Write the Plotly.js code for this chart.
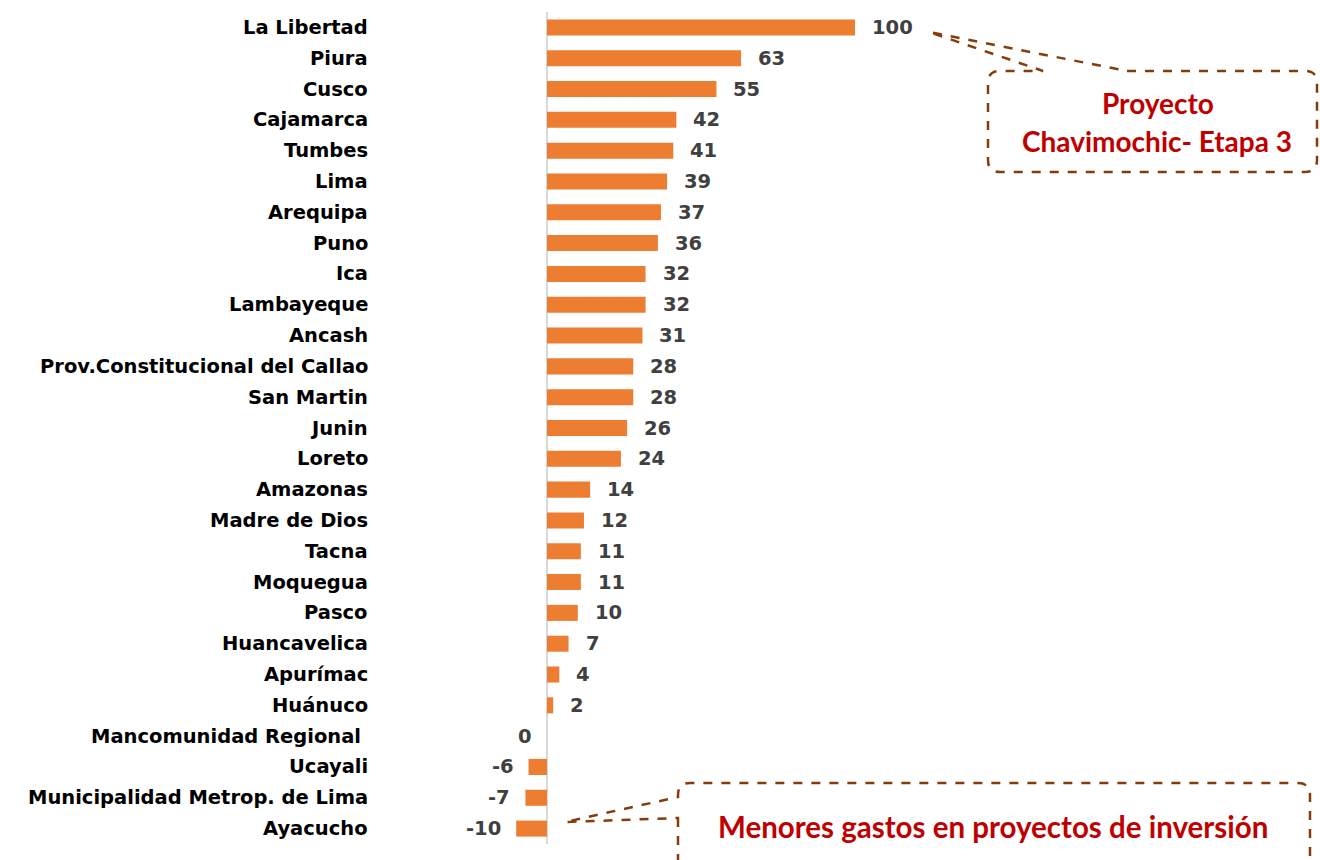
<!DOCTYPE html>
<html>
<head>
<meta charset="utf-8">
<script src="https://cdn.plot.ly/plotly-3.0.1.min.js"></script>
<style>
  html, body { margin: 0; padding: 0; background: #fff; }
  #chart { width: 1320px; height: 860px; }
</style>
</head>
<body>
<div id="chart"></div>
<script>
// regions, top to bottom, and their values
const regions = [
  "La Libertad", "Piura", "Cusco", "Cajamarca", "Tumbes", "Lima", "Arequipa",
  "Puno", "Ica", "Lambayeque", "Ancash", "Prov.Constitucional del Callao",
  "San Martin", "Junin", "Loreto", "Amazonas", "Madre de Dios", "Tacna",
  "Moquegua", "Pasco", "Huancavelica", "Apurímac", "Huánuco",
  "Mancomunidad Regional", "Ucayali", "Municipalidad Metrop. de Lima", "Ayacucho"
];
const values = [
  100, 63, 55, 42, 41, 39, 37,
  36, 32, 32, 31, 28,
  28, 26, 24, 14, 12, 11,
  11, 10, 7, 4, 2,
  0, -6, -7, -10
];

const calloutTop = ["Proyecto", "Chavimochic- Etapa 3"];
const calloutBottom = "Menores gastos en proyectos de inversión";

// figure margins (px)
const L = 380, T = 12, B = 16, W = 1320 - L, H = 860 - T - B;
const px = x => (x - L) / W;
const py = y => 1 - (y - T) / H;

// build a path in paper coords from pixel commands
function path(cmds) {
  return cmds.map(c => {
    const op = c[0];
    const pts = [];
    for (let i = 1; i < c.length; i += 2) {
      pts.push(px(c[i]).toFixed(5) + "," + py(c[i + 1]).toFixed(5));
    }
    return op + " " + pts.join(" ");
  }).join(" ");
}

const brown = "#843C0C";
const red = "#C00000";

const bars = {
  type: "bar",
  orientation: "h",
  y: regions,
  x: values,
  marker: { color: "#ED7D31" },
  hoverinfo: "x+y"
};

const labelFont = { family: "DejaVu Sans", size: 19.5, color: "#000000", weight: "bold" };
const valueFont = { family: "DejaVu Sans", size: 19.5, color: "#404040", weight: "bold" };

const annotations = [];
regions.forEach((r, i) => {
  annotations.push({
    xref: "paper", yref: "y", x: px(370), y: r,
    text: r === "Mancomunidad Regional" ? r + "\u00a0" : r,
    xanchor: "right", showarrow: false, font: labelFont
  });
  const v = values[i];
  annotations.push({
    xref: "x", yref: "y", x: v, y: r,
    text: String(v),
    xanchor: v > 0 ? "left" : "right",
    xshift: v > 0 ? 15 : -13,
    showarrow: false, font: valueFont
  });
});

const calloutFont = { family: "Lato", size: 28, color: red, weight: "bold" };
annotations.push(
  { xref: "paper", yref: "paper", x: px(1158), y: py(103), text: calloutTop[0],
    showarrow: false, font: calloutFont, xanchor: "center", yanchor: "middle" },
  { xref: "paper", yref: "paper", x: px(1157), y: py(141), text: calloutTop[1],
    showarrow: false, font: calloutFont, xanchor: "center", yanchor: "middle" },
  { xref: "paper", yref: "paper", x: px(993), y: py(826), text: calloutBottom,
    showarrow: false, font: Object.assign({}, calloutFont, { size: 29.5 }),
    xanchor: "center", yanchor: "middle" }
);

const line = { color: brown, width: 2.5, dash: "dash" };
const shapes = [
  {
    type: "path", xref: "paper", yref: "paper", line: line,
    path: path([
      ["M", 1127, 71], ["L", 1305, 71], ["Q", 1317, 71, 1317, 83],
      ["L", 1317, 160], ["Q", 1317, 172, 1305, 172],
      ["L", 1000, 172], ["Q", 988, 172, 988, 160],
      ["L", 988, 83], ["Q", 988, 71, 1000, 71],
      ["L", 1043, 71], ["L", 929, 32], ["Z"]
    ])
  },
  {
    type: "path", xref: "paper", yref: "paper", line: line,
    path: path([
      ["M", 678, 818], ["L", 678, 890], ["L", 1310, 890],
      ["L", 1310, 795], ["Q", 1310, 783, 1298, 783],
      ["L", 690, 783], ["Q", 678, 783, 678, 795],
      ["L", 678, 797], ["L", 565, 822], ["Z"]
    ])
  }
];

const layout = {
  width: 1320,
  height: 860,
  margin: { l: L, r: 0, t: T, b: B },
  paper_bgcolor: "#ffffff",
  plot_bgcolor: "#ffffff",
  showlegend: false,
  bargap: 0.48,
  xaxis: {
    range: [-(547 - L) / 3.08, (1320 - 547) / 3.08],
    showgrid: false, showticklabels: false, ticks: "",
    zeroline: true, zerolinecolor: "#d9d9d9", zerolinewidth: 2,
    showline: false, fixedrange: true
  },
  yaxis: {
    type: "category",
    autorange: "reversed",
    showgrid: false, showticklabels: false, ticks: "",
    zeroline: false, showline: false, fixedrange: true
  },
  annotations: annotations,
  shapes: shapes
};

Plotly.newPlot("chart", [bars], layout, { displayModeBar: false, staticPlot: true });
</script>
</body>
</html>
